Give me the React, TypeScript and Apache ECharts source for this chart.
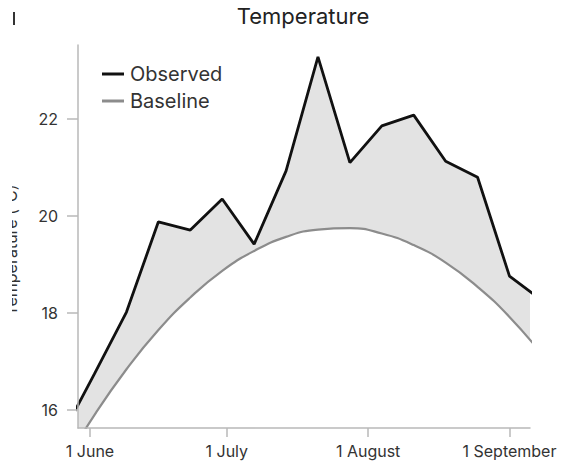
import React, { useEffect, useRef } from "react";
import * as echarts from "echarts";

const dates = [
  "2024-05-26", "2024-06-02", "2024-06-09", "2024-06-16", "2024-06-23", "2024-06-30",
  "2024-07-07", "2024-07-14", "2024-07-21", "2024-07-28", "2024-08-04", "2024-08-11",
  "2024-08-18", "2024-08-25", "2024-09-01", "2024-09-08",
];
const observed = [15.5, 16.75, 18.02, 19.88, 19.71, 20.35, 19.42, 20.93, 23.28, 21.1, 21.86, 22.08, 21.13, 20.8, 18.76, 18.27];
const baseline = [14.83, 15.9, 16.84, 17.65, 18.32, 18.87, 19.28, 19.57, 19.72, 19.75, 19.64, 19.4, 19.04, 18.54, 17.92, 17.16];
const xTickDates = ["2024-06-01", "2024-07-01", "2024-08-01", "2024-09-01"];
const xTickLabels = ["1 June", "1 July", "1 August", "1 September"];
const yTicks = [16, 18, 20, 22];

const FONT = "Inter, 'Noto Sans', sans-serif";
const DAY = 86400000;

export default function App() {
  const ref = useRef<HTMLDivElement>(null);
  useEffect(() => {
    if (!ref.current) return;
    const chart = echarts.init(ref.current, null, { renderer: "svg" });
    const t = (s: string) => Date.parse(s + "T00:00:00Z");
    const origin = t(xTickDates[0]);
    const dayOf = (s: string) => (t(s) - origin) / DAY;
    const xs = dates.map(dayOf);
    const tickDays = xTickDates.map(dayOf);
    const xMin = -2.63;
    const xMax = xMin + 99.13;
    const obsPts = xs.map((x, i) => [x, observed[i]]);
    const basePts = xs.map((x, i) => [x, baseline[i]]);
    const axisColor = "#b8b8b8";
    chart.setOption({
      animation: false,
      textStyle: { fontFamily: FONT },
      title: {
        text: "Temperature",
        left: 295,
        textAlign: "center",
        top: 0,
        padding: 0,
        textStyle: { fontFamily: FONT, fontSize: 22, lineHeight: 16, fontWeight: "normal", color: "#222" },
      },
      legend: {
        left: 89,
        top: 51,
        orient: "vertical",
        icon: "rect",
        itemWidth: 22,
        itemHeight: 3,
        itemGap: 7,
        data: [
          { name: "Observed", itemStyle: { color: "#111" } },
          { name: "Baseline", itemStyle: { color: "#8c8c8c" } },
        ],
        textStyle: { fontFamily: FONT, fontSize: 20, color: "#333", padding: [0, 0, 0, 1] },
      },
      grid: { left: 70, right: 39, top: 37, bottom: 38, containLabel: false },
      xAxis: {
        type: "value",
        min: xMin,
        max: xMax,
        z: 5,
        axisLine: { show: true, onZero: false, lineStyle: { color: axisColor, width: 1.5 } },
        axisTick: { show: true, length: 9, lineStyle: { color: axisColor, width: 1.5 }, customValues: tickDays },
        axisLabel: {
          customValues: tickDays,
          fontFamily: FONT,
          fontSize: 16,
          color: "#333",
          margin: 15,
          formatter: (v: number) => {
            const i = tickDays.findIndex((d) => Math.abs(d - v) < 0.5);
            return i >= 0 ? xTickLabels[i] : "";
          },
        },
        splitLine: { show: false },
      },
      yAxis: {
        type: "value",
        min: 15.629,
        max: 23.526,
        z: 5,
        axisLine: { show: true, onZero: false, lineStyle: { color: axisColor, width: 1.5 } },
        axisTick: { show: true, length: 11, lineStyle: { color: axisColor, width: 1.5 }, customValues: yTicks },
        axisLabel: { customValues: yTicks, fontFamily: FONT, fontSize: 16, color: "#333", margin: 20 },
        splitLine: { show: false },
      },
      graphic: [
        {
          type: "text",
          x: 11,
          y: 242,
          z: 1,
          rotation: Math.PI / 2,
          style: {
            text: "Temperature (°C)",
            font: `16px ${FONT}`,
            fill: "#333",
            align: "center",
            verticalAlign: "bottom",
          },
        },
        { type: "rect", z: 2, shape: { x: -8, y: 150, width: 12, height: 200 }, style: { fill: "#ffffff" } },
        { type: "rect", shape: { x: 5, y: 4, width: 2, height: 13 }, style: { fill: "#333" } },
      ],
      series: [
        {
          name: "obsFill",
          type: "line",
          data: obsPts,
          symbol: "none",
          lineStyle: { width: 0, opacity: 0 },
          areaStyle: { color: "#e3e3e3", opacity: 1, origin: "start" },
          silent: true,
        },
        {
          name: "baseFill",
          type: "line",
          data: basePts,
          smooth: true,
          symbol: "none",
          lineStyle: { width: 0, opacity: 0 },
          areaStyle: { color: "#ffffff", opacity: 1, origin: "start" },
          silent: true,
        },
        {
          name: "Baseline",
          type: "line",
          data: basePts,
          smooth: true,
          symbol: "none",
          lineStyle: { color: "#8c8c8c", width: 2.2 },
          itemStyle: { color: "#8c8c8c" },
        },
        {
          name: "Observed",
          type: "line",
          data: obsPts,
          symbol: "none",
          lineStyle: { color: "#111", width: 2.8 },
          itemStyle: { color: "#111" },
        },
      ],
    });
    return () => chart.dispose();
  }, []);
  return <div ref={ref} style={{ width: 561, height: 458 }} />;
}
